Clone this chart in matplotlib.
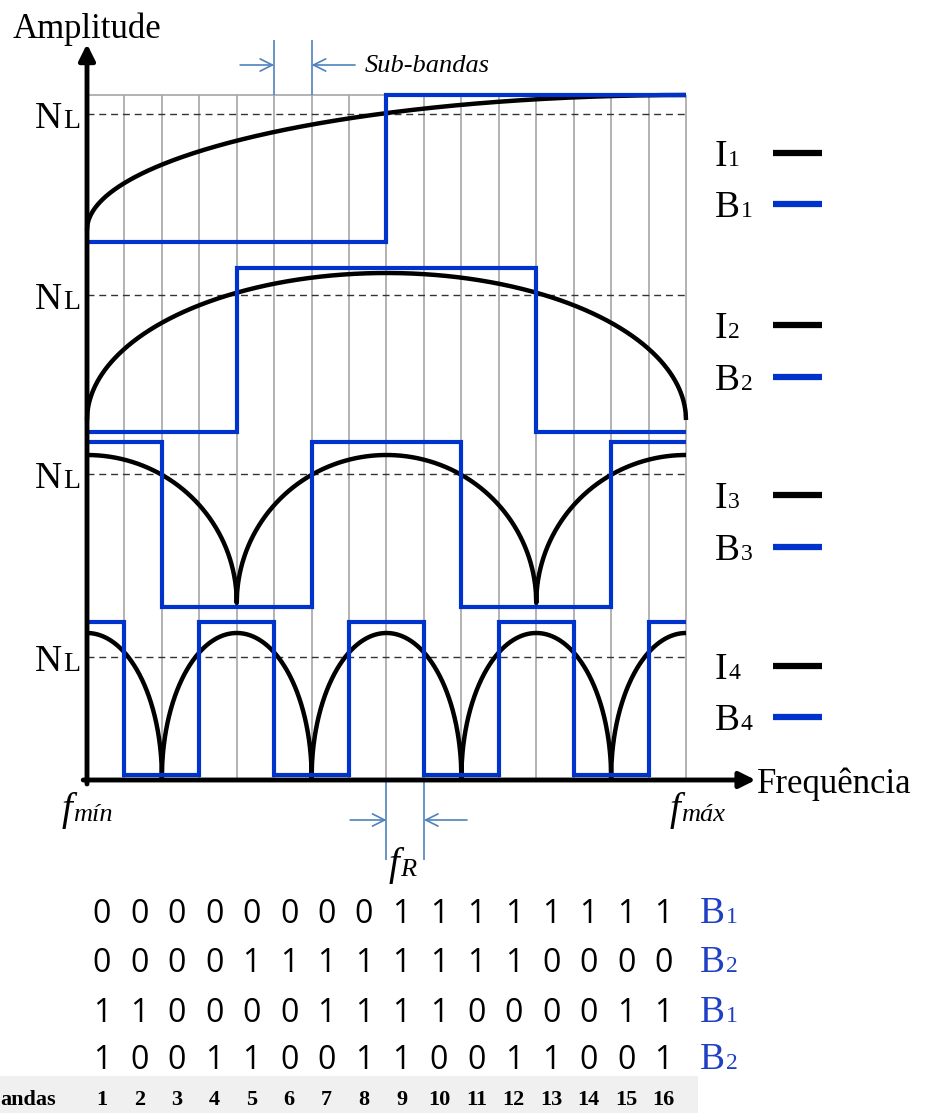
import numpy as np
import matplotlib
matplotlib.use("Agg")
import matplotlib.pyplot as plt
from matplotlib.patches import Rectangle

SERIF = "Liberation Serif"
SANS = "Open Sans"
BLUE = "#0033cc"
BLUE_TXT = "#1f3fc4"
MARK = "#4f81bd"

# bit pattern of each sub-band (16 bands)
bits_b1 = [0, 0, 0, 0, 0, 0, 0, 0, 1, 1, 1, 1, 1, 1, 1, 1]
bits_b2 = [0, 0, 0, 0, 1, 1, 1, 1, 1, 1, 1, 1, 0, 0, 0, 0]
bits_b3 = [1, 1, 0, 0, 0, 0, 1, 1, 1, 1, 0, 0, 0, 0, 1, 1]
bits_b4 = [1, 0, 0, 1, 1, 0, 0, 1, 1, 0, 0, 1, 1, 0, 0, 1]
row_names = ["1", "2", "1", "2"]
bands = list(range(1, 17))

# analogue curves: peak positions and half-width of each arc
peaks = [[16], [8], [0, 8, 16], [0, 4, 8, 12, 16]]
half_width = [16, 8, 4, 2]

# vertical levels of each panel (curve base/top, square low/high, NL)
curve_lo = [550, 360, 177, 2]
curve_hi = [685, 507, 325, 147]
sq_lo = [538, 348, 173, 5]
sq_hi = [685, 512, 338, 158]
nl_level = [666, 485, 306, 123]
legend_y = [(627, 576), (455, 403), (285, 233), (114, 63)]

bw = (686 - 87) / 16.0
fig = plt.figure(figsize=(9.28, 11.13), dpi=100)
ax = fig.add_axes([0, 0, 1, 1])
ax.set_xlim(-87 / bw, (928 - 87) / bw)
ax.set_ylim(-333, 780)
ax.axis("off")


def sub_label(x, y, big, small, bs, ss, color="k", style="normal", weight="normal"):
    t = ax.text(x, y, big, fontsize=bs, color=color, style=style, family=SERIF,
                ha="left", va="baseline", weight=weight)
    ax.annotate(small, xy=(1, 0), xycoords=t, xytext=(0.5, 0.22 * (bs - ss)),
                textcoords="offset points", fontsize=ss, color=color,
                style=style, family=SERIF, ha="left", va="bottom")


# grid of sub-bands
edges = np.arange(17)
ax.vlines(edges, 0, 685, colors="#a6a6a6", lw=1.2, zorder=1)
ax.hlines(685, 0, 16, colors="#a6a6a6", lw=1.2, zorder=1)

all_bits = [bits_b1, bits_b2, bits_b3, bits_b4]
x = np.linspace(0, 16, 1601)
for k in range(4):
    ax.hlines(nl_level[k], 0, 16, colors="#333333", lw=1.0,
              linestyles=(0, (5, 3.5)), zorder=2)
    d = np.min(np.abs(x[:, None] - np.array(peaks[k])[None, :]), axis=1)
    u = np.clip(d / half_width[k], 0, 1)
    y = curve_lo[k] + (curve_hi[k] - curve_lo[k]) * np.sqrt(1 - u ** 2)
    ax.plot(x, y, color="black", lw=3.2, zorder=3, solid_capstyle="butt")
    lv = sq_lo[k] + np.array(all_bits[k]) * (sq_hi[k] - sq_lo[k])
    ax.stairs(lv, edges, baseline=None, color=BLUE, lw=3, zorder=4)
    # N_L label
    sub_label(-1.39, nl_level[k] - 14, "N", "L", 27, 20)
    # legend
    yi, yb = legend_y[k]
    sub_label(16.77, yi - 13, "I", str(k + 1), 27, 17)
    sub_label(16.77, yb - 13, "B", str(k + 1), 27, 17)
    ax.plot([18.32, 19.63], [yi, yi], color="black", lw=4.5, solid_capstyle="butt")
    ax.plot([18.32, 19.63], [yb, yb], color=BLUE, lw=4.5, solid_capstyle="butt")

# axes with arrows
ax.annotate("", xy=(0, 736), xytext=(0, -4),
            arrowprops=dict(arrowstyle="-|>", lw=3.5, color="k", mutation_scale=24,
                            shrinkA=0, shrinkB=0), zorder=5)
ax.annotate("", xy=(17.86, 0), xytext=(-0.1, 0),
            arrowprops=dict(arrowstyle="-|>", lw=3.5, color="k", mutation_scale=24,
                            shrinkA=0, shrinkB=0), zorder=5)
ax.text(-1.98, 742, "Amplitude", fontsize=25, family=SERIF, ha="left", va="baseline")
ax.text(17.9, -13, "Frequência", fontsize=25, family=SERIF, ha="left", va="baseline")

# sub-band width marker
ax.vlines([5, 6], 685, 740, colors=MARK, lw=1.2)
arr = dict(arrowstyle="->", color=MARK, lw=1.2, mutation_scale=22, shrinkA=0, shrinkB=0)
ax.annotate("", xy=(5, 715), xytext=(4.09, 715), arrowprops=arr)
ax.annotate("", xy=(6, 715), xytext=(7.16, 715), arrowprops=arr)
ax.text(7.43, 708, "Sub-bandas", fontsize=19, style="italic", family=SERIF,
        ha="left", va="baseline")

# f_R marker
ax.vlines([8, 9], -80, 0, colors=MARK, lw=1.2)
ax.annotate("", xy=(8, -40), xytext=(7.03, -40), arrowprops=arr)
ax.annotate("", xy=(9, -40), xytext=(10.15, -40), arrowprops=arr)
sub_label(8.05, -95, "f", "R", 28, 19, style="italic")
sub_label(-0.67, -40, "f", "mín", 28, 19, style="italic")
sub_label(15.57, -40, "f", "máx", 28, 19, style="italic")

# bit table
row_y = [-143, -192, -242, -289]
for r in range(4):
    for i, b in enumerate(all_bits[r]):
        ax.text(bands[i] - 0.6, row_y[r], str(b), fontsize=23, family=SANS,
                ha="center", va="baseline")
    sub_label(16.37, row_y[r], "B", row_names[r], 27, 17, color=BLUE_TXT)

ax.add_patch(Rectangle((-87 / bw, -333), 698 / bw, 37, color="#f0f0f0", zorder=0, lw=0))
for i, n in enumerate(bands):
    ax.text(n - 0.6, -325, str(n), fontsize=16, family=SERIF, weight="bold",
            ha="center", va="baseline")
ax.text(-87 / bw, -325, "andas", fontsize=16, family=SERIF, weight="bold",
        ha="left", va="baseline")

fig.savefig("out.png", dpi=100)
